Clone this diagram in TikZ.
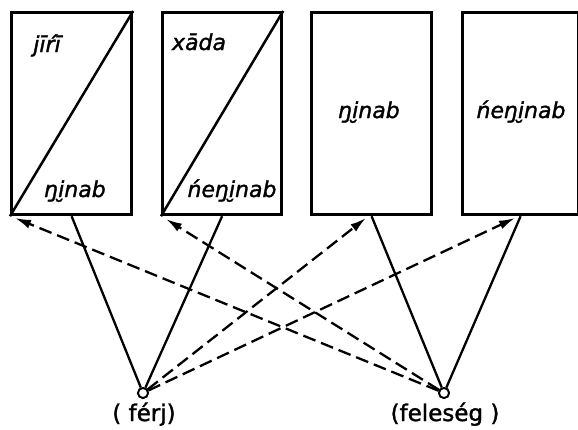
\documentclass[tikz,border=0pt]{standalone}
\usepackage{fontspec}
\setmainfont{DejaVu Sans}[FakeBold=1.5,ItalicFeatures={FakeBold=1.5}]
\usetikzlibrary{arrows.meta}
\begin{document}
\begin{tikzpicture}[x=1pt,y=-1pt,
  frame/.style={draw,line width=3.2pt,rectangle,inner sep=0pt,anchor=north west},
  word/.style={font=\fontsize{22}{24}\selectfont\itshape,inner sep=0pt,anchor=base},
  person/.style={draw,circle,fill=white,line width=1.8pt,minimum size=10pt,inner sep=0pt},
  kin/.style={line width=2.3pt},
  addr/.style={line width=2.3pt,dash pattern=on 13pt off 6pt,-{Latex[length=16pt,width=9pt]}},
  tag/.style={font=\fontsize{23}{25}\selectfont,inner sep=0pt,anchor=base}]
\useasboundingbox (0,0) rectangle (578,429);

% four term boxes
\node[frame,minimum width=120pt,minimum height=202pt] (b1) at (10,11) {};
\node[frame,minimum width=119pt,minimum height=202pt] (b2) at (161,11) {};
\node[frame,minimum width=120pt,minimum height=202pt] (b3) at (310,11) {};
\node[frame,minimum width=116pt,minimum height=202pt] (b4) at (461,11) {};

% split boxes
\draw[line width=2.5pt] (b1.south west) -- (b1.north east);
\draw[line width=2.5pt] (b2.south west) -- (b2.north east);

% terms
\node[word] (t1) at (47,52) {jīŕī};
\node[word] (t2) at (75,197) {ŋi̮nab};
\node[word] (t3) at (199,50) {xāda};
\node[word] (t4) at (232,197) {ńeŋi̮nab};
\node[word] (t5) at (369,118) {ŋi̮nab};
\node[word] (t6) at (521,118) {ńeŋi̮nab};

% speakers
\node[person] (h) at (143,393) {};
\node[person] (w) at (444,393) {};
\node[tag] (lh) at (144,421) {( férj)};
\node[tag] (lw) at (445,421) {(feleség )};

% arrow targets under the boxes
\coordinate (a1) at (15,218);
\coordinate (a2) at (166,219);
\coordinate (a3) at (366,218);
\coordinate (a4) at (515,218);

% reference lines
\draw[kin] (b1.south) -- (h);
\draw[kin] (b2.south) -- (h);
\draw[kin] (b3.south) -- (w);
\draw[kin] (b4.south) -- (w);

% address lines
\draw[addr] (w) -- (a1);
\draw[addr] (w) -- (a2);
\draw[addr] (h) -- (a3);
\draw[addr] (h) -- (a4);

\node[person] at (h) {};
\node[person] at (w) {};
\end{tikzpicture}
\end{document}
